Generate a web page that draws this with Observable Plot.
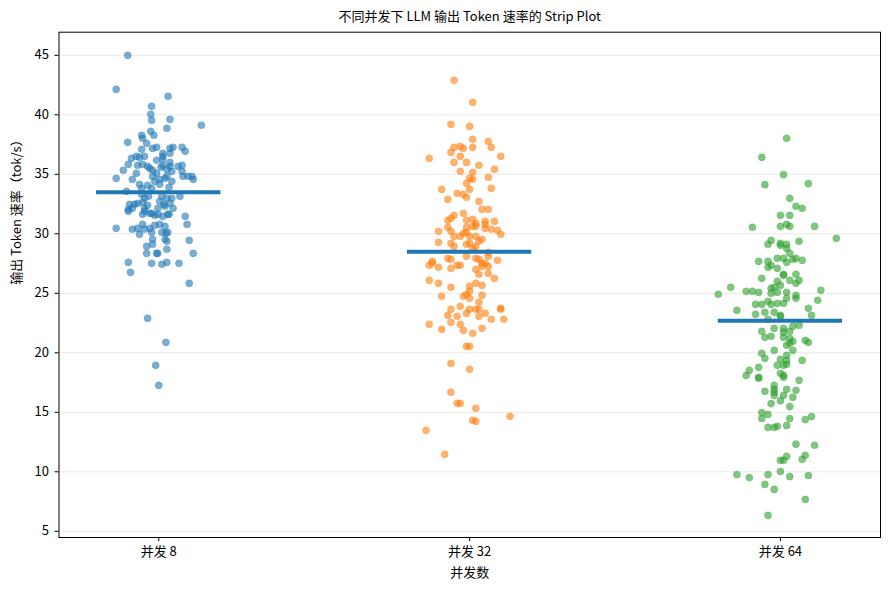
<!DOCTYPE html>
<html><head><meta charset="utf-8">
<script src="https://cdn.jsdelivr.net/npm/d3@7"></script>
<script src="https://cdn.jsdelivr.net/npm/@observablehq/plot@0.6"></script>
<style>body{margin:0;background:#fff} svg{display:block}</style>
</head><body><div id="chart"></div>
<script>
const title = "不同并发下 LLM 输出 Token 速率的 Strip Plot";
const xLabel = "并发数";
const yLabel = "输出 Token 速率（tok/s）";
const categories = ["并发 8", "并发 32", "并发 64"];
const colors = ["#1f77b4", "#ff7f0e", "#2ca02c"];
const yTicks = [5, 10, 15, 20, 25, 30, 35, 40, 45];
const medians = [33.5, 28.5, 22.7];

const values8 = [45.0,42.14,41.55,40.71,40.04,39.54,39.62,39.12,38.87,38.61,
38.28,38.28,38.03,37.69,37.61,37.1,37.18,37.27,37.18,37.27,
37.27,36.93,36.76,36.76,36.51,36.34,36.51,36.43,36.51,36.18,
36.26,36.0,35.84,35.76,35.84,35.67,35.5,35.59,35.76,35.67,
35.67,35.76,35.34,35.34,35.08,35.42,35.25,35.25,34.83,34.83,
34.83,34.58,34.66,34.58,35.08,34.83,34.41,34.58,34.66,34.83,
34.41,34.16,33.82,34.08,33.82,34.16,33.91,33.57,33.32,32.98,
33.15,33.15,32.98,32.98,33.15,32.48,32.48,32.56,32.65,32.73,
32.48,32.56,32.06,32.14,32.14,32.39,32.14,32.31,32.14,31.64,
31.72,31.55,31.47,31.64,31.47,31.89,31.89,31.72,31.64,31.64,
30.8,30.46,30.38,30.46,29.96,30.8,30.38,30.46,30.13,30.71,
30.8,30.13,30.63,30.04,30.13,29.54,29.12,29.54,29.37,29.45,
28.95,28.36,28.36,28.36,28.7,28.36,27.6,27.52,27.44,27.6,
27.52,26.76,25.84,22.9,20.88,18.95,17.27];
const jitter8 = [-0.10,-0.137,0.03,-0.023,-0.026,-0.023,0.036,0.137,0.026,-0.026,
-0.016,-0.055,-0.052,-0.10,-0.039,-0.055,-0.02,-0.007,0.036,0.046,
0.075,0.085,0.036,0.013,0.013,-0.088,-0.072,-0.062,-0.046,-0.007,
0.013,0.036,-0.098,-0.068,-0.052,-0.036,-0.029,0.007,0.013,0.036,
0.062,0.075,-0.114,-0.02,-0.007,0.026,0.042,0.075,0.078,0.094,
0.107,0.111,-0.137,-0.085,-0.072,-0.02,-0.013,0.003,0.02,0.026,
0.042,-0.062,-0.055,-0.036,-0.023,0.003,0.033,-0.104,-0.055,-0.046,
-0.033,0.01,0.026,0.042,0.068,-0.094,-0.078,-0.068,-0.052,0.003,
0.016,0.036,-0.098,-0.085,-0.046,-0.036,-0.003,0.02,0.046,-0.052,
-0.023,-0.013,0.013,0.033,0.085,-0.098,-0.046,-0.029,-0.003,0.029,
0.091,-0.137,-0.085,-0.068,-0.062,-0.052,-0.046,-0.029,-0.023,-0.013,
0.003,0.01,0.02,0.023,0.029,-0.02,-0.02,0.02,0.026,0.098,
-0.039,-0.039,-0.007,-0.003,0.026,0.111,-0.098,-0.023,0.01,0.026,
0.065,-0.091,0.098,-0.036,0.023,-0.01,0.0];

const values32 = [42.9,41.05,39.2,39.03,37.94,37.77,37.27,37.27,36.85,37.35,
37.18,37.27,36.34,36.51,36.51,36.0,36.0,35.76,35.42,35.25,
35.17,34.75,34.66,34.58,34.24,33.74,33.74,33.82,33.4,33.32,
33.07,32.9,32.73,32.06,32.06,31.72,31.55,31.3,31.13,30.55,
31.13,31.22,30.88,31.05,31.05,30.55,30.63,30.63,30.8,30.46,
30.38,30.29,29.96,30.21,30.21,29.79,29.79,30.04,30.13,29.79,
29.79,29.37,29.54,29.29,29.2,28.95,29.12,29.2,28.78,28.95,
27.69,27.94,27.86,28.11,27.94,28.45,27.77,28.11,27.86,27.52,
27.35,27.52,27.18,27.1,27.35,27.35,27.01,26.6,27.52,27.27,
26.68,26.26,27.27,26.09,25.84,25.5,25.59,25.67,25.84,24.75,
24.75,24.92,25.17,24.58,24.83,24.24,23.91,23.66,23.15,23.07,
23.66,23.66,23.66,23.32,23.74,23.66,23.07,23.32,22.4,21.97,
22.56,22.4,21.89,21.64,22.06,22.82,22.82,20.55,20.55,19.12,
18.61,16.68,15.76,15.76,15.34,14.66,14.33,14.24,13.49,11.47];
const jitter32 = [-0.05,0.01,-0.06,0.0,0.01,0.06,0.07,-0.05,-0.06,-0.03,
-0.02,0.01,-0.13,0.1,-0.03,-0.01,-0.05,0.03,0.08,-0.03,
0.01,0.06,0.0,0.01,-0.01,-0.09,0.0,0.07,-0.04,-0.02,
-0.01,-0.07,0.03,0.04,0.06,-0.02,-0.05,-0.06,-0.07,-0.07,
-0.01,0.01,0.02,0.05,0.08,-0.01,0.01,0.02,0.05,0.05,
0.07,0.09,0.1,-0.1,-0.06,-0.05,-0.03,-0.02,-0.01,0.0,
0.02,0.03,0.04,-0.1,-0.06,-0.05,-0.01,0.0,0.01,0.02,
-0.12,-0.07,-0.06,-0.01,0.02,0.06,0.09,0.06,0.03,0.05,
-0.13,-0.12,-0.1,-0.06,-0.04,-0.03,0.02,0.03,0.04,0.06,
0.06,0.08,0.04,-0.13,-0.1,-0.06,0.0,0.04,0.02,-0.09,
-0.02,-0.01,0.0,0.0,0.04,0.03,-0.03,-0.06,-0.07,-0.04,
0.0,0.02,0.03,0.05,0.1,0.1,0.03,-0.01,-0.13,-0.09,
-0.06,-0.03,-0.02,0.01,0.04,0.07,0.11,-0.01,0.0,-0.06,
0.0,-0.06,-0.04,-0.03,0.02,0.13,0.01,0.02,-0.14,-0.08];

const values64 = [38.03,36.43,34.97,34.13,34.22,32.98,32.31,32.14,31.55,31.55,
30.55,30.63,30.8,30.63,30.63,29.62,29.45,29.12,29.2,29.03,
29.12,28.78,29.37,28.36,27.69,27.69,27.18,27.35,27.94,27.1,
27.6,27.94,27.86,27.94,27.77,26.26,26.51,26.6,26.6,26.09,
26.09,25.84,26.01,25.5,24.92,25.17,25.17,25.08,25.42,25.5,
25.67,25.0,25.08,25.08,24.83,24.58,25.25,24.41,23.57,24.07,
24.07,24.33,24.07,24.16,24.16,24.58,23.74,23.15,23.24,23.4,
23.4,23.15,22.82,23.07,
21.81,21.3,21.39,22.06,22.06,21.73,21.3,21.81,22.23,22.32,
21.22,20.8,20.63,20.97,21.05,20.88,20.21,20.21,
19.96,19.54,19.46,19.79,19.37,19.04,18.95,18.95,19.37,
18.78,18.53,18.11,17.94,17.86,18.28,18.11,17.94,17.69,
17.27,16.93,16.68,16.43,16.93,16.85,16.43,16.26,16.76,
15.98,15.73,15.48,
14.98,14.48,14.82,14.48,14.39,14.64,
13.73,13.73,13.82,13.9,12.32,12.23,
11.3,10.97,10.97,11.05,11.39,
9.77,9.52,9.77,10.02,9.6,9.69,8.94,8.52,7.68,6.34];
const jitter64 = [0.02,-0.06,0.01,-0.05,0.09,0.03,0.05,0.07,0.0,0.03,
-0.09,0.0,0.02,0.03,0.11,0.18,-0.03,-0.04,0.0,0.0,
0.02,0.02,0.06,0.03,-0.07,-0.04,-0.04,-0.03,-0.01,-0.01,
0.02,0.01,0.04,0.05,0.07,-0.06,0.01,0.01,0.05,0.03,
0.06,0.05,-0.01,-0.16,-0.2,-0.11,-0.09,-0.07,-0.03,-0.02,
0.0,-0.03,-0.01,0.02,0.05,0.05,0.13,0.12,-0.14,-0.08,
-0.06,-0.04,-0.03,-0.01,0.01,0.02,0.09,0.1,-0.08,-0.05,
-0.02,0.0,-0.04,0.0,
-0.06,-0.05,-0.03,-0.02,0.01,0.01,0.01,0.03,0.04,0.06,
0.03,0.03,0.02,0.04,0.08,0.09,0.04,-0.02,
-0.06,-0.05,0.0,0.02,0.02,0.02,-0.01,0.01,0.07,
-0.07,-0.1,-0.11,-0.07,-0.07,0.0,0.01,0.01,0.06,
-0.02,-0.02,-0.02,-0.02,0.02,0.05,0.01,0.04,-0.05,
0.0,-0.03,0.03,
-0.06,-0.06,-0.04,0.03,0.08,0.1,
-0.04,-0.02,-0.01,0.02,0.05,0.11,
0.02,0.0,0.01,0.07,0.08,
-0.14,-0.1,-0.04,0.0,0.03,0.09,-0.05,-0.02,0.08,-0.04];

const groups = [[values8, jitter8], [values32, jitter32], [values64, jitter64]];
const points = [];
groups.forEach(([vs, js], i) => vs.forEach((v, k) => points.push({cat: i, x: i + (js[k] ?? 0), y: v})));
const medianData = medians.map((m, i) => ({cat: i, m}));

const FONT = '"Noto Sans CJK SC", "DejaVu Sans", sans-serif';
const chart = Plot.plot({
  width: 889, height: 590,
  marginLeft: 58.5, marginRight: 9, marginTop: 31.7, marginBottom: 53,
  style: {fontFamily: FONT, fontSize: "13px", background: "white", color: "#000", overflow: "visible"},
  x: {domain: [-0.321, 2.322], label: null},
  y: {domain: [4.48, 46.94], label: null},
  color: {type: "ordinal", domain: [0, 1, 2], range: colors},
  marks: [
    Plot.gridY(yTicks, {stroke: "#e6e6e6", strokeOpacity: 1, strokeWidth: 0.9}),
    Plot.dot(points, {x: "x", y: "y", fill: "cat", r: 3.6, fillOpacity: 0.6, stroke: "cat", strokeOpacity: 0.35, strokeWidth: 0.6}),
    Plot.ruleY(medianData, {y: "m", x1: d => d.cat - 0.2, x2: d => d.cat + 0.2, stroke: colors[0], strokeWidth: 4}),
    Plot.frame({stroke: "black", strokeWidth: 1}),
    Plot.axisX([0, 1, 2], {tickFormat: i => categories[i], tickSize: 4, tickPadding: 5, fontSize: 13, label: null, stroke: "black"}),
    Plot.axisY(yTicks, {tickSize: 4, tickPadding: 6, fontSize: 13, label: null, stroke: "black"}),
    Plot.text([xLabel], {frameAnchor: "bottom", dy: 35, lineAnchor: "middle", fontSize: 13}),
    Plot.text([yLabel], {frameAnchor: "left", dx: -42, rotate: -90, lineAnchor: "middle", fontSize: 13}),
    Plot.text([title], {frameAnchor: "top", dy: -15, lineAnchor: "middle", fontSize: 13})
  ]
});
document.getElementById("chart").appendChild(chart);
</script>
</body></html>
